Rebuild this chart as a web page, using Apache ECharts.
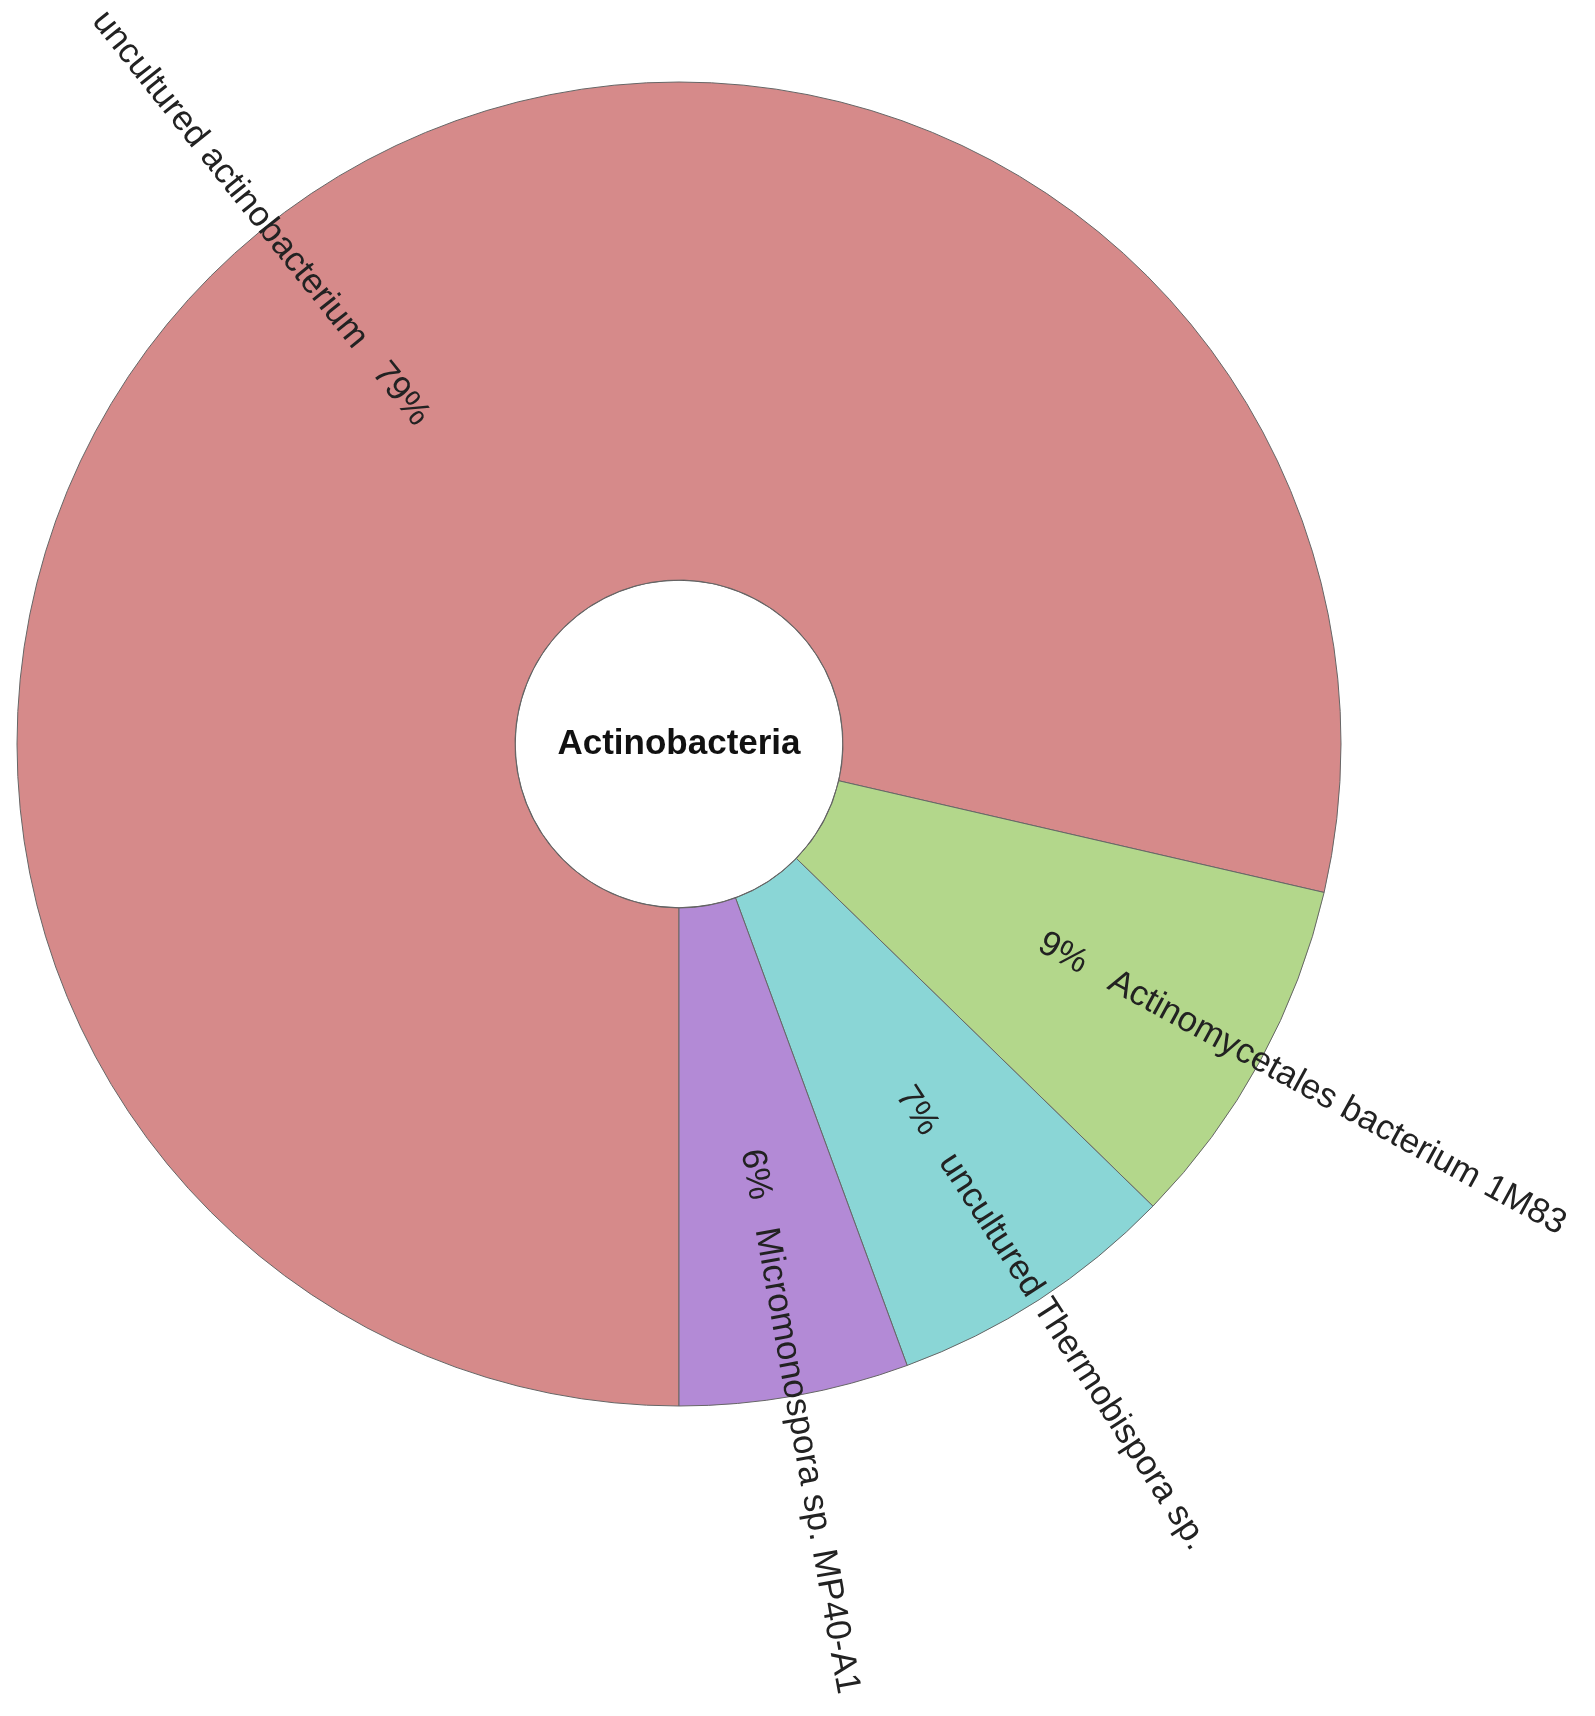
<!DOCTYPE html>
<html>
    <head>
        <title></title>
        <meta charset="UTF-8">
        <style>
            html, body { margin: 0; padding: 0; background: #ffffff; }
            #chart {
                position: absolute;
                left: 0;
                top: 0;
                width: 1595px;
                height: 1716px;
            }
        </style>
        <script src="https://cdn.jsdelivr.net/npm/echarts@6/dist/echarts.min.js"></script>
    </head>
    <body>
        <div id="chart"></div>
    </body>
    <script>
        // 数据
        var rootName = 'Actinobacteria';
        var names = ['uncultured actinobacterium', 'Actinomycetales bacterium 1M83', 'uncultured Thermobispora sp.', 'Micromonospora sp. MP40-A1'];
        var values = [78.6, 8.7, 7.1, 5.6];
        var colors = ['#d68a8a', '#b3d78b', '#8ad6d6', '#b38ad6'];

        var START = 270;
        var total = values.reduce(function (a, b) { return a + b; }, 0);

        // 左半边的标签: 名称在前, 百分比在后
        var cum = 0;
        var children = names.map(function (n, i) {
            var mid = (START - 360 * (cum + values[i] / 2) / total) * Math.PI / 180;
            cum += values[i];
            var left = Math.cos(mid) < 0;
            return {
                name: n,
                value: values[i],
                itemStyle: { color: colors[i] },
                label: {
                    formatter: function (p) {
                        var pct = Math.round(p.value / total * 100) + '%';
                        return left ? p.name + '   ' + pct : pct + '   ' + p.name;
                    }
                }
            };
        });

        var chart = echarts.init(document.getElementById('chart'));
        chart.setOption({
            animation: false,
            series: [{
                type: 'sunburst',
                center: [679, 744],
                radius: [0, 662],
                startAngle: START,
                clockwise: true,
                sort: null,
                nodeClick: false,
                emphasis: { focus: 'none' },
                data: [{
                    name: rootName,
                    value: total,
                    itemStyle: { color: '#ffffff' },
                    children: children
                }],
                levels: [
                    {},
                    {
                        r0: 0,
                        r: 164,
                        itemStyle: { borderColor: '#555555', borderWidth: 1.5 },
                        label: {
                            rotate: 0,
                            align: 'center',
                            fontFamily: 'Liberation Sans, Arial, sans-serif',
                            fontWeight: 'bold',
                            fontSize: 35,
                            color: '#111111'
                        }
                    },
                    {
                        r0: 164,
                        r: 662,
                        itemStyle: { borderColor: '#666666', borderWidth: 1 },
                        label: {
                            rotate: 'radial',
                            align: 'left',
                            position: 'inside',
                            distance: 248,
                            fontFamily: 'Liberation Sans, Arial, sans-serif',
                            fontSize: 35,
                            color: '#222222'
                        }
                    }
                ]
            }]
        });
    </script>
</html>
